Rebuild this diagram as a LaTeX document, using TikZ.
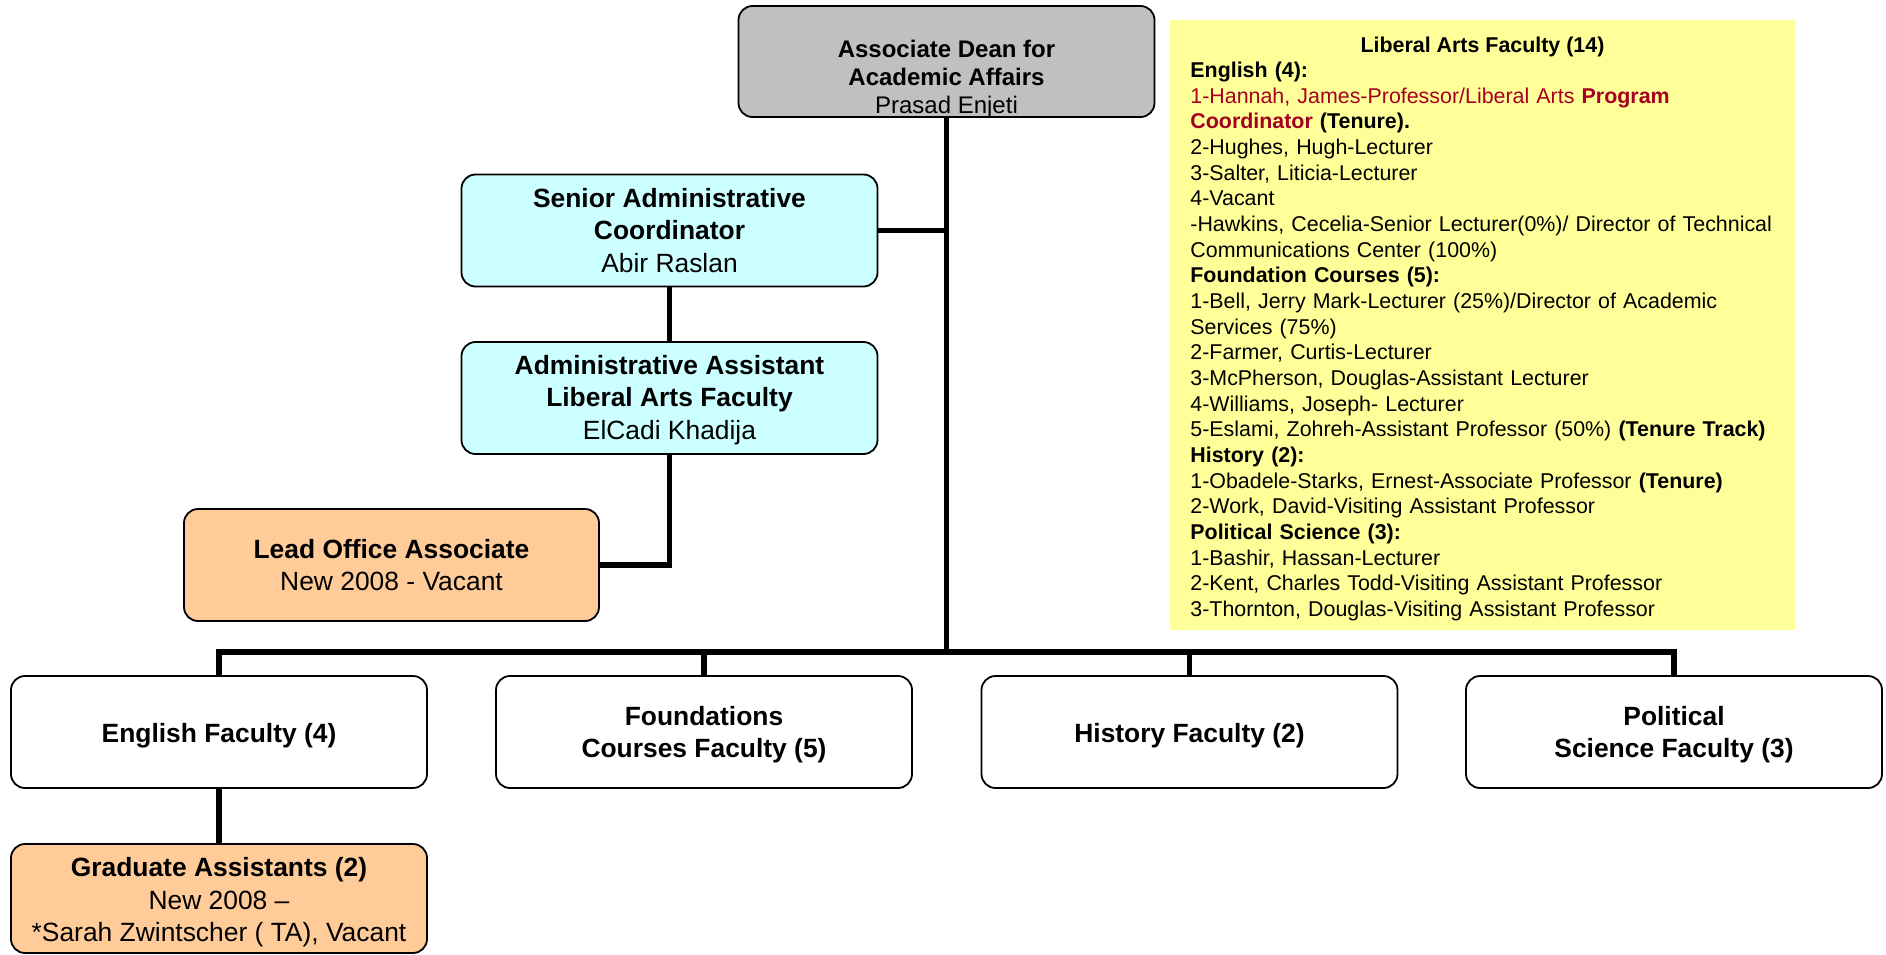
\documentclass[tikz,border=0pt]{standalone}
\usepackage{fontspec}
\setmainfont{Liberation Sans}
\definecolor{grayfill}{RGB}{192,192,192}
\definecolor{cyanfill}{RGB}{204,255,255}
\definecolor{orangefill}{RGB}{255,204,153}
\definecolor{yellowfill}{RGB}{255,255,153}
\definecolor{dred}{RGB}{165,0,33}
\newcommand{\lowr}[2]{\raisebox{-#1}[\height][\depth]{\begin{tabular}{@{}c@{}}#2\end{tabular}}}
\begin{document}
\begin{tikzpicture}[x=0.5pt,y=-0.5pt,
  box/.style={draw=black, line width=0.9pt, rounded corners=7pt, minimum width=208pt, minimum height=56pt, inner sep=0pt, align=center, font=\fontsize{13.2}{16.25}\selectfont},
  conn/.style={line width=2.7pt, line join=miter},
  listtext/.style={inner sep=0pt, font=\fontsize{10.7}{12.83}\selectfont},
]
\useasboundingbox (0,0) rectangle (1886,954);

% top box
\node[box, fill=grayfill, minimum height=55.5pt] (top) at (946.5,61.5) {};
\node[inner sep=0pt, align=center, font=\fontsize{12}{14.1}\selectfont] (topt) at (946.5,79) {\textbf{Associate Dean for}\\\textbf{Academic Affairs}\\Prasad Enjeti};

% admin column
\node[box, fill=cyanfill] (sen) at (669.5,230.5) {\textbf{Senior Administrative}\\\textbf{Coordinator}\\Abir Raslan};
\node[box, fill=cyanfill] (adm) at (669.5,398) {\lowr{1.2pt}{\textbf{Administrative Assistant}\\\textbf{Liberal Arts Faculty}\\ElCadi Khadija}};
\node[box, fill=orangefill, minimum width=207.5pt] (lead) at (391.5,565) {\textbf{Lead Office Associate}\\New 2008 - Vacant};

% faculty boxes
\node[box] (eng) at (219,732) {\lowr{1.8pt}{\textbf{English Faculty (4)}}};
\node[box] (fnd) at (704,732) {\lowr{1.6pt}{\textbf{Foundations}\\\textbf{Courses Faculty (5)}}};
\node[box] (his) at (1189.5,732) {\lowr{1.8pt}{\textbf{History Faculty (2)}}};
\node[box] (pol) at (1674,732) {\lowr{1.6pt}{\textbf{Political}\\\textbf{Science Faculty (3)}}};
\node[box, fill=orangefill, minimum height=54.5pt] (grad) at (219,898.5) {\lowr{2.1pt}{\textbf{Graduate Assistants (2)}\\New 2008 –\\{*}Sarah Zwintscher ( TA), Vacant}};

% yellow list
\node[fill=yellowfill, minimum width=312.5pt, minimum height=305pt, inner sep=0pt, anchor=north west] (laf) at (1170,20) {};
\node[listtext, anchor=base] (laft) at (1482.5,52) {\textbf{Liberal Arts Faculty (14)}};
\node[listtext, anchor=base west, text width=300pt, align=left] (lafl) at (1190,77.5) {%
\textbf{English (4):}\\
{\color{dred}1-Hannah, James-Professor/Liberal Arts \textbf{Program}}\\
{\color{dred}\textbf{Coordinator}} \textbf{(Tenure).}\\
2-Hughes, Hugh-Lecturer\\
3-Salter, Liticia-Lecturer\\
4-Vacant\\
-Hawkins, Cecelia-Senior Lecturer(0\%)/ Director of Technical\\
Communications Center (100\%)\\
\textbf{Foundation Courses (5):}\\
1-Bell, Jerry Mark-Lecturer (25\%)/Director of Academic\\
Services (75\%)\\
2-Farmer, Curtis-Lecturer\\
3-McPherson, Douglas-Assistant Lecturer\\
4-Williams, Joseph- Lecturer\\
5-Eslami, Zohreh-Assistant Professor (50\%) \textbf{(Tenure Track)}\\
\textbf{History (2):}\\
1-Obadele-Starks, Ernest-Associate Professor \textbf{(Tenure)}\\
2-Work, David-Visiting Assistant Professor\\
\textbf{Political Science (3):}\\
1-Bashir, Hassan-Lecturer\\
2-Kent, Charles Todd-Visiting Assistant Professor\\
3-Thornton, Douglas-Visiting Assistant Professor};

% connectors
\coordinate (bus) at (946.5,652);
\draw[conn] (top.south) -- (bus);
\draw[conn] (sen.east) -- (sen.east -| top.south);
\draw[conn] (sen.south) -- (adm.north);
\draw[conn] (adm.south) |- (lead.east);
\draw[conn] (eng.north) |- (bus) -| (pol.north);
\draw[conn] (fnd.north) -- (fnd.north |- bus);
\draw[conn] (his.north) -- (his.north |- bus);
\draw[conn] (eng.south) -- (grad.north);
\end{tikzpicture}
\end{document}
